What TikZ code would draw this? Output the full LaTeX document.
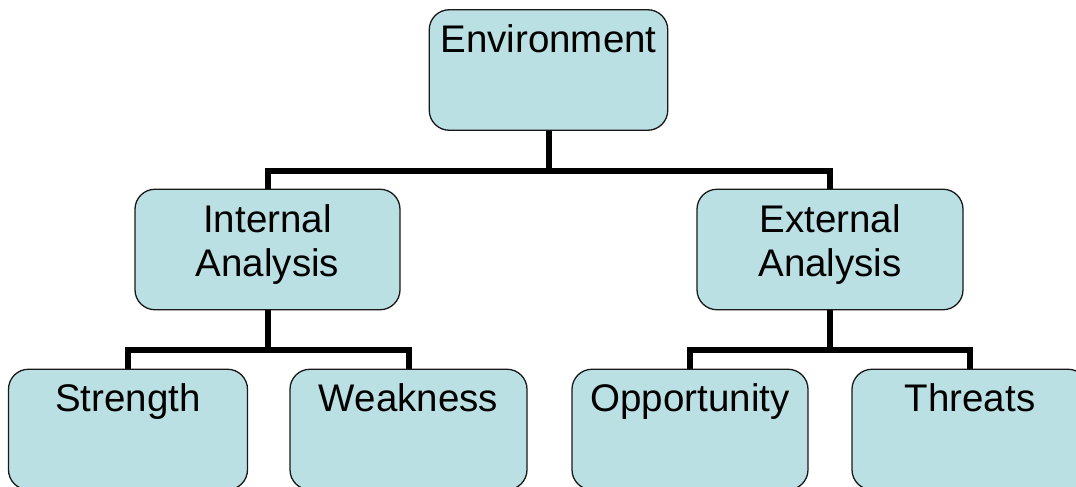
\documentclass[tikz,border=0pt]{standalone}
\usepackage{fontspec}
\setmainfont{Liberation Sans}
\definecolor{boxfill}{RGB}{187,224,227}
\tikzset{
  box/.style={draw=black!90, line width=1.3pt, fill=boxfill, rounded corners=20pt,
    minimum width=237pt, minimum height=120.5pt, inner sep=0pt},
  wide/.style={minimum width=265pt},
  lbl/.style={font=\fontsize{38.5}{44}\selectfont, inner sep=0pt, align=center},
  conn/.style={line width=6pt, black}
}
\begin{document}
\begin{tikzpicture}[x=1pt,y=-1pt]
\useasboundingbox (0,0) rectangle (1076,487);
\begin{scope}
\clip (0,0) rectangle (1076,487);
% box centres in pixel coordinates
\coordinate (envc) at (548.5,70);
\coordinate (intc) at (267.5,249.5);
\coordinate (extc) at (830,249.5);
\coordinate (strc) at (128,429.5);
\coordinate (weac) at (408.5,429.5);
\coordinate (oppc) at (690,429.5);
\coordinate (thrc) at (970,429.5);
% connectors first, beneath the boxes
\coordinate (j1) at (548.5,170.5);
\coordinate (j2) at (267.5,350);
\coordinate (j3) at (830,350);
\draw[conn] (envc) -- (j1);
\draw[conn] (j1) -| (intc);
\draw[conn] (j1) -| (extc);
\draw[conn] (intc) -- (j2);
\draw[conn] (j2) -| (strc);
\draw[conn] (j2) -| (weac);
\draw[conn] (extc) -- (j3);
\draw[conn] (j3) -| (oppc);
\draw[conn] (j3) -| (thrc);
% boxes
\node[box, minimum width=238.5pt] (env) at (envc) {};
\node[box, wide] (int) at (intc) {};
\node[box, wide, minimum width=266pt] (ext) at (extc) {};
\node[box, minimum width=239pt] (str) at (strc) {};
\node[box] (wea) at (weac) {};
\node[box, minimum width=236pt] (opp) at (oppc) {};
\node[box, minimum width=236pt] (thr) at (thrc) {};
% texts
\node[lbl, anchor=base] (envt) at ([yshift=-43.5pt]env.north) {Environment};
\node[lbl, anchor=north] (intt) at ([yshift=-15.5pt]int.north) {Internal\\Analysis};
\node[lbl, anchor=north] (extt) at ([yshift=-15.5pt]ext.north) {External\\Analysis};
\node[lbl, anchor=base] (strt) at ([yshift=-42.5pt]str.north) {Strength};
\node[lbl, anchor=base] (weat) at ([yshift=-42.5pt]wea.north) {Weakness};
\node[lbl, anchor=base] (oppt) at ([yshift=-42.5pt]opp.north) {Opportunity};
\node[lbl, anchor=base] (thrt) at ([yshift=-42.5pt]thr.north) {Threats};
\end{scope}
\end{tikzpicture}
\end{document}
